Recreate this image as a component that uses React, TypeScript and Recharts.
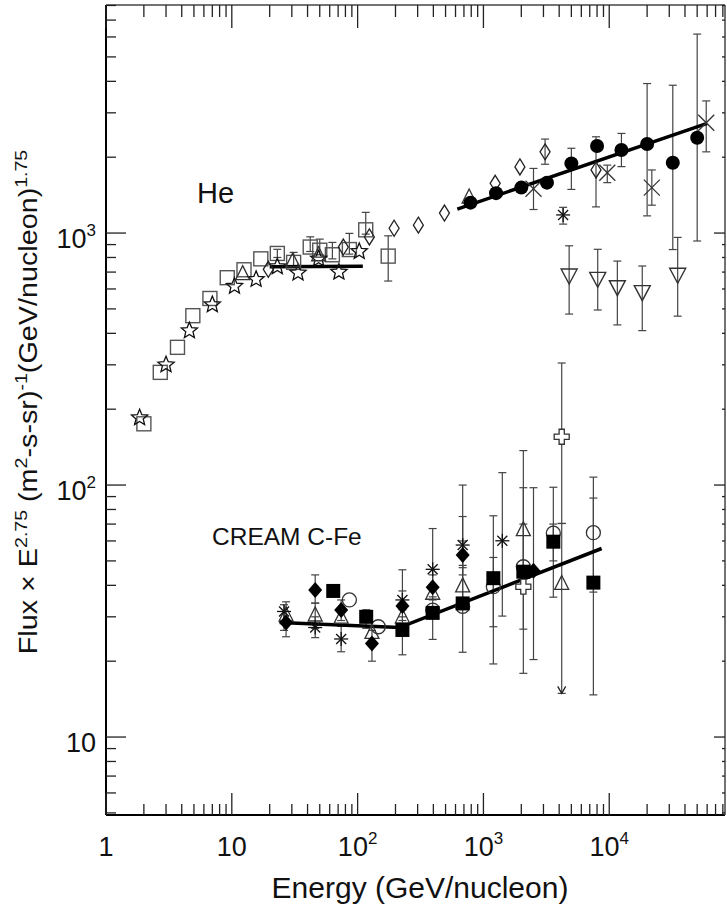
import { ScatterChart, Scatter, XAxis, YAxis, ErrorBar } from "recharts";

// [energy, flux, lower bound, upper bound]
type Pt = [number, number, number?, number?];

const FONT = '"Liberation Sans", Arial, Helvetica, sans-serif';

// axis ticks
const xTicks = [
  1, 2, 3, 4, 5, 6, 7, 8, 9,
  10, 20, 30, 40, 50, 60, 70, 80, 90,
  100, 200, 300, 400, 500, 600, 700, 800, 900,
  1000, 2000, 3000, 4000, 5000, 6000, 7000, 8000, 9000,
  10000, 20000, 30000, 40000, 50000, 60000, 70000, 80000,
];
const xMajor = [1, 10, 100, 1000, 10000];
const yTicks = [
  5, 6, 7, 8, 9,
  10, 20, 30, 40, 50, 60, 70, 80, 90,
  100, 200, 300, 400, 500, 600, 700, 800, 900,
  1000, 2000, 3000, 4000, 5000, 6000, 7000, 8000,
];
const yMajor = [10, 100, 1000];

// ---- He ----
const heSquares: Pt[] = [
  [2.0, 175], [2.7, 280], [3.7, 352], [4.9, 470], [6.7, 550], [9.2, 665],
  [12.5, 715], [17, 790], [23, 830, 800, 862], [31, 765, 735, 838],
  [42, 880, 845, 966], [50, 855, 820, 946], [63, 820, 790, 918],
  [86, 860, 825, 997], [116, 1030, 990, 1208], [175, 810, 645, 975],
];
const heStars: Pt[] = [
  [1.85, 185], [3.0, 300], [4.6, 410], [7.0, 520], [10.5, 615], [15.6, 655],
  [23, 735], [33.6, 695], [49, 790], [71, 700], [103, 845],
];
const heTriangles: Pt[] = [[12.2, 690], [30.5, 775], [49, 820], [770, 1390]];
const heDiamonds: Pt[] = [
  [19.5, 718], [77, 880], [124, 965], [195, 1045], [304, 1075], [490, 1200],
  [1240, 1575], [1950, 1830], [3090, 2100, 1875, 2360], [7850, 1780, 1270, 2410],
];
const heCircles: Pt[] = [
  [790, 1320], [1260, 1440], [2000, 1515], [3200, 1585],
  [5000, 1890, 1490, 2170], [8000, 2215], [12500, 2135, 1835, 2485],
  [20000, 2255, 1170, 3920], [32000, 1900, 860, 3860], [50000, 2390, 930, 6160],
];
const heCrosses: Pt[] = [
  [2500, 1500, 1240, 1805], [9650, 1735, 1585, 1860],
  [21800, 1515, 1290, 1780], [59000, 2740, 2100, 3345],
];
const heAsterisks: Pt[] = [[4300, 1180, 1085, 1265]];
const heDownTri: Pt[] = [
  [4800, 675, 477, 890], [8100, 655, 495, 862], [11600, 607, 432, 774],
  [18300, 580, 410, 740], [35000, 680, 468, 961],
];
const heFitLow: Pt[] = [[20, 735], [110, 738]];
const heFitHigh: Pt[] = [[620, 1245], [60000, 2725]];

// ---- CREAM C-Fe ----
const crDiamonds: Pt[] = [
  [27, 28.5, 25.0, 34.4], [46, 38.3, 34.0, 44.0], [74, 31.9, 29.0, 35.0],
  [130, 23.5, 20.0, 26.5], [227, 33.1, 29.0, 46.1], [395, 39.3, 35.0, 44.0],
  [684, 52.8, 47.0, 60.0], [2500, 45.7, 20.3, 97.6],
];
const crTriangles: Pt[] = [
  [27, 30.5], [46, 30.5, 27.0, 34.0], [74, 29.9], [130, 26.0], [227, 30.0],
  [395, 37.2], [684, 39.8, 33.0, 48.0], [2076, 66.5, 40.0, 137],
  [4190, 40.7, 14.9, 70.4],
];
const crAsterisks: Pt[] = [
  [26, 31.5, 26.5, 33.5], [46, 27.2, 24.8, 30.0], [74, 24.5, 21.8, 27.5],
  [227, 35.0, 32.0, 38.0], [395, 46.3, 40.0, 67.2], [684, 57.8, 44.0, 100],
  [1413, 60.1, 30.2, 112],
];
const crSquares: Pt[] = [
  [64, 38.0], [117, 30.0, 27.0, 32.0], [227, 26.6, 21.2, 30.0],
  [395, 31.1, 24.4, 36.0], [684, 33.9, 21.7, 75.0], [1199, 42.7, 19.5, 75.5],
  [2076, 45.3, 17.9, 97.6], [3594, 59.6, 50.0, 70.0], [7480, 41.0, 14.7, 88.8],
];
const crCircles: Pt[] = [
  [86, 35.0], [146, 27.4], [395, 31.9], [684, 33.0],
  [1199, 39.5, 27.4, 51.6], [2076, 47.4, 26.8, 70.0],
  [3594, 64.4, 35.9, 98.0], [7480, 64.7, 37.6, 107.5],
];
const crPlus: Pt[] = [[2076, 39.5], [4190, 155.5, 70.4, 305]];
const crLimits: Pt[] = [[4190, 14.9]];
const crFit: Pt[] = [[24, 28.5], [215, 27.2], [8700, 56]];

const rows = (pts: Pt[]) =>
  pts.map(([x, y, lo, hi]) => ({
    x,
    y,
    err: lo !== undefined && hi !== undefined ? [y - lo, hi - y] : undefined,
  }));

// ---- marker shapes ----
const OpenSquare = ({ cx, cy }: any) => (
  <rect x={cx - 7} y={cy - 7} width={14} height={14} fill="none" stroke="#555" strokeWidth={1.4} />
);
const Star = ({ cx, cy }: any) => {
  const pts = Array.from({ length: 10 }, (_, i) => {
    const a = ((-90 + i * 36) * Math.PI) / 180;
    const r = i % 2 === 0 ? 8.5 : 3.8;
    return `${cx + r * Math.cos(a)},${cy + r * Math.sin(a)}`;
  }).join(" ");
  return <polygon points={pts} fill="none" stroke="#111" strokeWidth={1.3} />;
};
const OpenDiamond = ({ cx, cy }: any) => (
  <polygon
    points={`${cx},${cy - 8} ${cx + 5},${cy} ${cx},${cy + 8} ${cx - 5},${cy}`}
    fill="none" stroke="#222" strokeWidth={1.3}
  />
);
const OpenTriUp = ({ cx, cy }: any) => (
  <polygon
    points={`${cx},${cy - 8} ${cx + 7},${cy + 6} ${cx - 7},${cy + 6}`}
    fill="none" stroke="#333" strokeWidth={1.3}
  />
);
const OpenTriDown = ({ cx, cy }: any) => (
  <polygon
    points={`${cx - 8},${cy - 7} ${cx + 8},${cy - 7} ${cx},${cy + 8}`}
    fill="none" stroke="#333" strokeWidth={1.4}
  />
);
const FilledCircle = ({ cx, cy }: any) => <circle cx={cx} cy={cy} r={7} fill="#000" />;
const OpenCircle = ({ cx, cy }: any) => (
  <circle cx={cx} cy={cy} r={7} fill="none" stroke="#333" strokeWidth={1.3} />
);
const XCross = ({ cx, cy }: any) => (
  <g stroke="#333" strokeWidth={1.3}>
    <line x1={cx - 8} y1={cy - 8} x2={cx + 8} y2={cy + 8} />
    <line x1={cx - 8} y1={cy + 8} x2={cx + 8} y2={cy - 8} />
  </g>
);
const Asterisk = ({ cx, cy }: any) => (
  <g stroke="#111" strokeWidth={1.3}>
    <line x1={cx - 7} y1={cy} x2={cx + 7} y2={cy} />
    <line x1={cx} y1={cy - 7} x2={cx} y2={cy + 7} />
    <line x1={cx - 5} y1={cy - 5} x2={cx + 5} y2={cy + 5} />
    <line x1={cx - 5} y1={cy + 5} x2={cx + 5} y2={cy - 5} />
  </g>
);
const FilledDiamond = ({ cx, cy }: any) => (
  <polygon points={`${cx},${cy - 8} ${cx + 7},${cy} ${cx},${cy + 8} ${cx - 7},${cy}`} fill="#000" />
);
const FilledSquare = ({ cx, cy }: any) => (
  <rect x={cx - 7} y={cy - 7} width={14} height={14} fill="#000" />
);
const OpenPlus = ({ cx, cy }: any) => {
  const a = 2.6;
  const b = 7.5;
  const p = [
    [-a, -b], [a, -b], [a, -a], [b, -a], [b, a], [a, a],
    [a, b], [-a, b], [-a, a], [-b, a], [-b, -a], [-a, -a],
  ].map(([dx, dy]) => `${cx + dx},${cy + dy}`).join(" ");
  return <polygon points={p} fill="#fff" stroke="#333" strokeWidth={1.3} />;
};
const ArrowDown = ({ cx, cy }: any) => (
  <polyline points={`${cx - 4},${cy - 7} ${cx},${cy} ${cx + 4},${cy - 7}`} fill="none" stroke="#222" strokeWidth={1.3} />
);
const NoShape = () => <g />;

// ---- axis ticks ----
const Label10 = ({ v, ...rest }: any) => {
  const e = Math.round(Math.log10(v));
  return (
    <text fontFamily={FONT} fontSize={27} fill="#111" {...rest}>
      {e === 0 ? "1" : e === 1 ? "10" : (
        <>
          <tspan>10</tspan>
          <tspan dy={-12} fontSize={17}>{e}</tspan>
        </>
      )}
    </text>
  );
};

const XTickBottom = ({ x, y, payload }: any) => {
  const major = xMajor.includes(payload.value);
  return (
    <g>
      <line x1={x} y1={y} x2={x} y2={y - (major ? 22 : 11)} stroke="#222" strokeWidth={1.3} />
      {major && <Label10 v={payload.value} x={x} y={y + 41} textAnchor="middle" />}
    </g>
  );
};
const XTickTop = ({ x, y, payload }: any) => {
  const major = xMajor.includes(payload.value);
  return <line x1={x} y1={y} x2={x} y2={y + (major ? 23 : 12)} stroke="#222" strokeWidth={1.3} />;
};
const YTickLeft = ({ x, y, payload }: any) => {
  const major = yMajor.includes(payload.value);
  return (
    <g>
      <line x1={x} y1={y} x2={x + (major ? 20 : 10)} y2={y} stroke="#222" strokeWidth={1.3} />
      {major && <Label10 v={payload.value} x={x - 10} y={y + 15} textAnchor="end" />}
    </g>
  );
};
const YTickRight = ({ x, y, payload }: any) => {
  const major = yMajor.includes(payload.value);
  return <line x1={x} y1={y} x2={x - (major ? 11 : 3)} y2={y} stroke="#222" strokeWidth={1.3} />;
};

const X_DOMAIN = [1, 83200];
const Y_DOMAIN = [4.905, 8035];

const series: { pts: Pt[]; shape: any }[] = [
  { pts: heSquares, shape: OpenSquare },
  { pts: heStars, shape: Star },
  { pts: heTriangles, shape: OpenTriUp },
  { pts: heDiamonds, shape: OpenDiamond },
  { pts: heCrosses, shape: XCross },
  { pts: heAsterisks, shape: Asterisk },
  { pts: heDownTri, shape: OpenTriDown },
  { pts: heCircles, shape: FilledCircle },
  { pts: crTriangles, shape: OpenTriUp },
  { pts: crAsterisks, shape: Asterisk },
  { pts: crCircles, shape: OpenCircle },
  { pts: crPlus, shape: OpenPlus },
  { pts: crDiamonds, shape: FilledDiamond },
  { pts: crSquares, shape: FilledSquare },
  { pts: crLimits, shape: ArrowDown },
];

const fits = [heFitLow, heFitHigh, crFit];

export default function App() {
  return (
    <div style={{ position: "absolute", left: 0, top: 0, width: 727, height: 905, background: "#fff" }}>
      <ScatterChart width={727} height={905} margin={{ top: 4, right: 1, bottom: 89, left: 105 }}>
        <XAxis
          xAxisId="b" type="number" dataKey="x" scale="log" domain={X_DOMAIN} allowDataOverflow
          ticks={xTicks} interval={0} tick={<XTickBottom />} tickLine={false} tickSize={0} tickMargin={0}
          height={1} axisLine={{ stroke: "#000", strokeWidth: 2 }}
        />
        <XAxis
          xAxisId="t" orientation="top" type="number" dataKey="x" scale="log" domain={X_DOMAIN} allowDataOverflow
          ticks={xTicks} interval={0} tick={<XTickTop />} tickLine={false} tickSize={0} tickMargin={0}
          height={1} axisLine={{ stroke: "#444", strokeWidth: 1.5 }}
        />
        <YAxis
          yAxisId="l" type="number" dataKey="y" scale="log" domain={Y_DOMAIN} allowDataOverflow
          ticks={yTicks} interval={0} tick={<YTickLeft />} tickLine={false} tickSize={0} tickMargin={0}
          width={1} axisLine={{ stroke: "#000", strokeWidth: 2 }}
        />
        <YAxis
          yAxisId="r" orientation="right" type="number" dataKey="y" scale="log" domain={Y_DOMAIN} allowDataOverflow
          ticks={yTicks} interval={0} tick={<YTickRight />} tickLine={false} tickSize={0} tickMargin={0}
          width={1} axisLine={{ stroke: "#444", strokeWidth: 1.5 }}
        />
        {fits.map((f, i) => (
          <Scatter
            key={`fit${i}`} data={rows(f)} xAxisId="b" yAxisId="l" shape={NoShape}
            line={{ stroke: "#000", strokeWidth: 3.5 }} isAnimationActive={false}
          />
        ))}
        {series.map((s, i) => (
          <Scatter key={`s${i}`} data={rows(s.pts)} xAxisId="b" yAxisId="l" shape={s.shape} isAnimationActive={false}>
            <ErrorBar dataKey="err" direction="y" width={4} stroke="#444" strokeWidth={1.2} />
          </Scatter>
        ))}
      </ScatterChart>
      <svg width={727} height={905} style={{ position: "absolute", left: 0, top: 0, pointerEvents: "none" }}>
        <g fontFamily={FONT} fill="#111">
          <text x={197} y={203} fontSize={29}>He</text>
          <text x={212} y={545} fontSize={24.5}>CREAM C-Fe</text>
          <text x={420} y={898} fontSize={30} textAnchor="middle">Energy (GeV/nucleon)</text>
          <text transform="translate(37,402) rotate(-90) scale(1.15,1)" textAnchor="middle" fontSize={25}>
            <tspan>Flux × E</tspan>
            <tspan dy={-10} fontSize={17}>2.75</tspan>
            <tspan dy={10}> (m</tspan>
            <tspan dy={-10} fontSize={17}>2</tspan>
            <tspan dy={10}>-s-sr)</tspan>
            <tspan dy={-10} fontSize={17}>-1</tspan>
            <tspan dy={10}>(GeV/nucleon)</tspan>
            <tspan dy={-10} fontSize={17}>1.75</tspan>
          </text>
        </g>
      </svg>
    </div>
  );
}
